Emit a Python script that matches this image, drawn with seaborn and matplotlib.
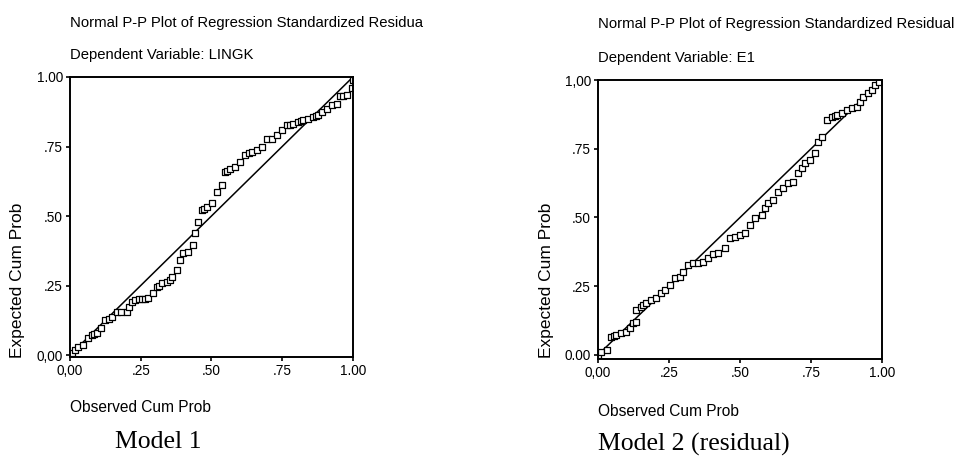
import numpy as np
import pandas as pd
import seaborn as sns
from matplotlib import pyplot as plt

sns.set_theme(style="white")
plt.rcParams['font.family'] = ['Liberation Sans', 'DejaVu Sans']

# Model 1 (Dependent Variable: LINGK) - observed vs expected cum prob
obs1 = [0.0, 0.006, 0.018, 0.03, 0.045, 0.065, 0.077, 0.086, 0.095, 0.11, 0.125, 0.138, 0.15,
        0.166, 0.18, 0.2, 0.21, 0.22, 0.23, 0.245, 0.255, 0.265, 0.277, 0.293, 0.307, 0.316,
        0.325, 0.343, 0.352, 0.36, 0.378, 0.39, 0.40, 0.417, 0.435, 0.442, 0.452, 0.466,
        0.475, 0.484, 0.502, 0.52, 0.537, 0.548, 0.556, 0.565, 0.583, 0.6, 0.618, 0.632,
        0.643, 0.66, 0.678, 0.696, 0.713, 0.731, 0.749, 0.767, 0.778, 0.788, 0.806, 0.815,
        0.824, 0.84, 0.859, 0.868, 0.876, 0.89, 0.908, 0.926, 0.943, 0.954, 0.966, 0.978,
        0.995, 1.0]
exp1 = [0.0, 0.007, 0.02, 0.03, 0.035, 0.06, 0.072, 0.076, 0.08, 0.097, 0.126, 0.13, 0.137,
        0.155, 0.155, 0.155, 0.173, 0.19, 0.198, 0.2, 0.2, 0.2, 0.205, 0.223, 0.245, 0.25,
        0.259, 0.263, 0.27, 0.28, 0.306, 0.342, 0.366, 0.37, 0.395, 0.439, 0.479, 0.52, 0.527,
        0.533, 0.546, 0.586, 0.61, 0.657, 0.662, 0.668, 0.675, 0.694, 0.719, 0.725, 0.73,
        0.737, 0.748, 0.777, 0.777, 0.79, 0.808, 0.827, 0.828, 0.83, 0.838, 0.842, 0.845,
        0.849, 0.856, 0.86, 0.863, 0.874, 0.885, 0.899, 0.903, 0.93, 0.932, 0.935, 0.96, 0.99]

# Model 2 (Dependent Variable: E1)
obs2 = [0.0, 0.01, 0.03, 0.046, 0.055, 0.063, 0.081, 0.1, 0.112, 0.123, 0.134, 0.134, 0.151,
        0.16, 0.169, 0.187, 0.204, 0.222, 0.236, 0.254, 0.271, 0.289, 0.3, 0.317, 0.335,
        0.352, 0.37, 0.387, 0.405, 0.423, 0.447, 0.465, 0.482, 0.5, 0.518, 0.535, 0.553,
        0.577, 0.588, 0.599, 0.616, 0.634, 0.651, 0.669, 0.687, 0.704, 0.718, 0.729, 0.746,
        0.764, 0.775, 0.789, 0.806, 0.824, 0.833, 0.842, 0.859, 0.877, 0.894, 0.912, 0.923,
        0.933, 0.951, 0.965, 0.975, 0.99]
exp2 = [0.0, 0.01, 0.018, 0.065, 0.07, 0.073, 0.08, 0.084, 0.098, 0.116, 0.12, 0.164, 0.175,
        0.182, 0.189, 0.2, 0.207, 0.225, 0.236, 0.255, 0.28, 0.284, 0.302, 0.327, 0.335,
        0.335, 0.338, 0.353, 0.367, 0.371, 0.389, 0.425, 0.429, 0.436, 0.443, 0.473, 0.498,
        0.51, 0.535, 0.553, 0.564, 0.593, 0.607, 0.625, 0.629, 0.662, 0.68, 0.698, 0.709,
        0.735, 0.775, 0.793, 0.855, 0.865, 0.869, 0.873, 0.88, 0.891, 0.898, 0.902, 0.92,
        0.938, 0.953, 0.964, 0.982, 0.993]

tick_vals = [0.0, 0.25, 0.5, 0.75, 1.0]
xlabels1 = ['0,00', '.25', '.50', '.75', '1.00']
ylabels1 = ['0,00', '.25', '.50', '.75', '1.00']
xlabels2 = ['0,00', '.25', '.50', '.75', '1.00']
ylabels2 = ['0.00', '.25', '.50', '.75', '1,00']

panels = [
    dict(obs=obs1, exp=exp1, xl=xlabels1, yl=ylabels1,
         title='Normal P-P Plot of Regression Standardized Residua',
         dep='Dependent Variable: LINGK', model='Model 1',
         rect=[0.0731, 0.2205, 0.2957, 0.6114], ylo=-0.007,
         ty=23, dy=55, oy=408, ylx=18),
    dict(obs=obs2, exp=exp2, xl=xlabels2, yl=ylabels2,
         title='Normal P-P Plot of Regression Standardized Residual',
         dep='Dependent Variable: E1', model='Model 2 (residual)',
         rect=[0.6249, 0.2162, 0.2968, 0.6090], ylo=-0.015,
         ty=24, dy=58, oy=411, ylx=547),
]

fig = plt.figure(figsize=(9.57, 4.58), dpi=100)

for p in panels:
    ax = fig.add_axes(p['rect'])
    df = pd.DataFrame({'obs': p['obs'], 'exp': p['exp']})
    ax.plot([0, 1], [0, 1], color='black', linewidth=1.1, zorder=1)
    sns.scatterplot(data=df, x='obs', y='exp', marker='s', s=13, facecolor='white',
                    edgecolor='black', linewidth=0.9, ax=ax, zorder=2)
    ax.set_xlim(0, 1)
    ax.set_ylim(p['ylo'], 1)
    ax.set_xticks(tick_vals)
    ax.set_xticklabels(p['xl'])
    ax.set_yticks(tick_vals)
    ax.set_yticklabels(p['yl'])
    ax.tick_params(axis='both', which='both', direction='out', length=3, width=1.2,
                   labelsize=9.8, pad=2, color='black', labelcolor='black',
                   bottom=True, left=True)
    for sp in ax.spines.values():
        sp.set_color('black')
        sp.set_linewidth(1.4)
    ax.set_xlabel('')
    ax.set_ylabel('')
    x0 = p['rect'][0]
    fig.text(x0, 1 - p['ty'] / 458, p['title'], fontsize=10.7, color='black',
             va='center', ha='left')
    fig.text(x0, 1 - p['dy'] / 458, p['dep'], fontsize=10.7, color='black',
             va='center', ha='left')
    fig.text(x0, 1 - p['oy'] / 458, 'Observed Cum Prob', fontsize=11.2, color='black',
             va='center', ha='left')
    fig.text(p['ylx'] / 957, 1 - 358 / 458, 'Expected Cum Prob', fontsize=12.5,
             color='black', rotation=90, ha='center', va='bottom')

fig.text(158 / 957, 1 - 442 / 458, 'Model 1', fontsize=18.5, family='Liberation Serif',
         color='black', va='center', ha='center')
fig.text(598 / 957, 1 - 444 / 458, 'Model 2 (residual)', fontsize=18.5,
         family='Liberation Serif', color='black', va='center', ha='left')

plt.savefig('out.png', dpi=100, facecolor='white')
